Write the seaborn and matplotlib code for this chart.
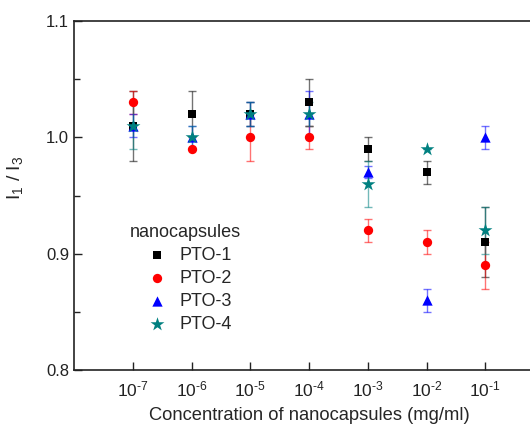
import numpy as np
import pandas as pd
import seaborn as sns
import matplotlib.pyplot as plt
from matplotlib.ticker import FixedLocator, MultipleLocator

# Data
conc = [1e-7, 1e-6, 1e-5, 1e-4, 1e-3, 1e-2, 1e-1]
exponents = [-7, -6, -5, -4, -3, -2, -1]
pto1 = [1.01, 1.02, 1.02, 1.03, 0.99, 0.97, 0.91]
pto1_err = [0.03, 0.02, 0.01, 0.02, 0.01, 0.01, 0.03]
pto2 = [1.03, 0.99, 1.00, 1.00, 0.92, 0.91, 0.89]
pto2_err = [0.01, 0.0, 0.02, 0.01, 0.01, 0.01, 0.02]
pto3 = [1.01, 1.00, 1.02, 1.02, 0.97, 0.86, 1.00]
pto3_err = [0.01, 0.01, 0.01, 0.02, 0.005, 0.01, 0.01]
pto4 = [1.01, 1.00, 1.02, 1.02, 0.96, 0.99, 0.92]
pto4_err = [0.02, 0.01, 0.01, 0.01, 0.02, 0.0, 0.02]

names = ['PTO-1', 'PTO-2', 'PTO-3', 'PTO-4']
colors = ['#000000', '#ff0000', '#0000ff', '#008080']
markers = ['s', 'o', '^', '*']
sizes = [40, 45, 55, 110]

df = pd.DataFrame({
    'conc': conc * 4,
    'ratio': pto1 + pto2 + pto3 + pto4,
    'err': pto1_err + pto2_err + pto3_err + pto4_err,
    'sample': sum([[n] * len(conc) for n in names], []),
})

sns.set_style('ticks')
plt.rcParams['font.family'] = ['Liberation Sans', 'DejaVu Sans']
plt.rcParams['mathtext.fontset'] = 'custom'
plt.rcParams['mathtext.rm'] = 'Liberation Sans'
plt.rcParams['mathtext.it'] = 'Liberation Sans'

fig = plt.figure(figsize=(5.3, 4.25), dpi=100)
ax = fig.add_axes([74 / 530, 55 / 425, 470 / 530, 349 / 425])

for name, color, m, s in zip(names, colors, markers, sizes):
    d = df[df['sample'] == name]
    ax.errorbar(d['conc'], d['ratio'], yerr=d['err'], fmt='none',
                ecolor=color, alpha=0.55, elinewidth=1, capsize=3, capthick=1)
    sns.scatterplot(x='conc', y='ratio', data=d, ax=ax, color=color,
                    marker=m, s=s, linewidth=0, label=name, zorder=3)

ax.set_xscale('log')
ax.set_xlim(1e-8, 1e0)
ax.set_ylim(0.8, 1.1)
ax.xaxis.set_major_locator(FixedLocator(conc))
ax.xaxis.set_minor_locator(FixedLocator([]))
ax.set_xticklabels([r'$10^{\text{-}%d}$' % (-e) for e in exponents])
ax.yaxis.set_major_locator(MultipleLocator(0.1))
ax.yaxis.set_minor_locator(MultipleLocator(0.05))
ax.tick_params(direction='in', which='both', labelsize=12, colors='#222222',
               top=False, right=False)
ax.tick_params(axis='x', labelsize=12.5, pad=7)
ax.tick_params(which='major', length=6, width=1)
ax.tick_params(which='minor', length=4, width=1)
for sp in ax.spines.values():
    sp.set_linewidth(1.2)
    sp.set_color('#222222')

ax.set_xlabel('Concentration of nanocapsules (mg/ml)', fontsize=13.2, labelpad=5)
ax.set_ylabel('I$_1$ / I$_3$', fontsize=14)
ax.yaxis.set_label_coords(-0.105, 0.55)

leg = ax.legend(title='nanocapsules', loc='upper left',
                bbox_to_anchor=(0.085, 0.465), frameon=False, fontsize=13,
                title_fontsize=13, handletextpad=0.25, labelspacing=0.33)

fig.savefig('out.png', dpi=100)
